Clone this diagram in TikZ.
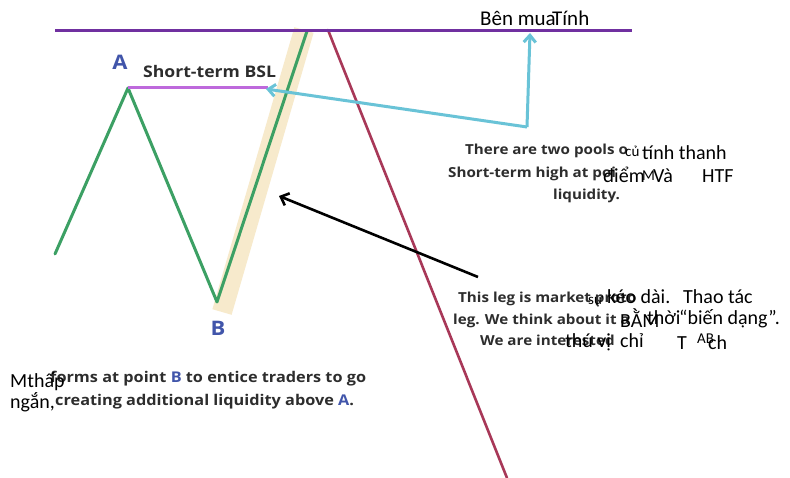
\documentclass[tikz,border=0pt]{standalone}
\usepackage{fontspec}
\setmainfont{Carlito}
\newfontfamily\bodyf{Open Sans}[FakeStretch=1.1]
\usetikzlibrary{arrows.meta}
\definecolor{toppurple}{RGB}{112,48,160}
\definecolor{bslpurple}{RGB}{190,105,220}
\definecolor{legreen}{RGB}{60,160,100}
\definecolor{bandbeige}{RGB}{247,234,204}
\definecolor{redleg}{RGB}{168,56,88}
\definecolor{cyanarr}{RGB}{105,195,215}
\definecolor{txtgray}{RGB}{45,45,45}
\definecolor{lblblue}{RGB}{65,85,170}
\tikzset{
  bodytxt/.style={inner sep=0pt, anchor=base west, text=txtgray, font=\bodyf\bfseries\fontsize{13.8}{16}\selectfont},
  bodybig/.style={inner sep=0pt, anchor=base west, text=txtgray, font=\bodyf\bfseries\fontsize{14.8}{17}\selectfont},
  over/.style={inner sep=0pt, anchor=base west, text=black, font=\fontsize{20}{23}\selectfont},
  oversmall/.style={inner sep=0pt, anchor=base west, text=black, font=\fontsize{15}{17}\selectfont},
  lbl/.style={inner sep=0pt, text=lblblue, font=\bodyf\bfseries\fontsize{20}{22}\selectfont},
  chartline/.style={line width=3pt, line cap=round, line join=round},
}
\begin{document}
\begin{tikzpicture}[x=1pt,y=-1pt]
\useasboundingbox[fill=white] (0,0) rectangle (790,478);
% coordinates
\coordinate (L1) at (55,31);
\coordinate (L2) at (632,31);
\coordinate (G0) at (55,254);
\coordinate (A) at (128,88);
\coordinate (B) at (217,302);
\coordinate (G3) at (307,31);
\coordinate (bandB) at (222,312);
\coordinate (bandT) at (304,30);
\coordinate (R1) at (328,30);
\coordinate (R2) at (507,478);
\coordinate (bslE) at (268,88);
\coordinate (cyanL) at (266,89);
\coordinate (corner) at (527,127);
\coordinate (cyanT) at (530,33);
\coordinate (blkS) at (478,277);
\coordinate (blkE) at (279,196);
% band
\draw[bandbeige, line width=20pt] (bandB) -- (bandT);
% lines
\draw[chartline, redleg, line width=2.6pt] (R1) -- (R2);
\draw[chartline, legreen] (G0) -- (A) -- (B) -- (G3);
\draw[chartline, toppurple, line cap=butt] (L1) -- (L2);
\draw[chartline, bslpurple, line cap=butt] (A) -- (bslE);
% arrows
\draw[cyanarr, line width=3pt, line join=round, -{Straight Barb[length=7pt,width=12pt]}] (corner) -- (cyanL);
\draw[cyanarr, line width=3pt, line join=round, -{Straight Barb[length=7pt,width=12pt]}] (corner) -- (cyanT);
\draw[black, line width=2.6pt, -{Straight Barb[length=7pt,width=13pt]}] (blkS) -- (blkE);
% labels
\node[lbl] (lA) at (120,62) {A};
\node[lbl] (lB) at (218,328) {B};
\node[inner sep=0pt, anchor=base west, text=txtgray, font=\bodyf\bfseries\fontsize{16}{19}\selectfont] (bsl) at (143,78) {Short-term BSL};
% body texts
\node[bodytxt] (t1) at (465,155) {There are two pools o};
\node[bodytxt] (t2) at (448,178) {Short-term high at poi};
\node[bodytxt] (t3) at (553,200) {liquidity.};
\node[bodytxt] (t4) at (458,303) {This leg is market proto};
\node[bodytxt] (t5) at (453,325) {leg. We think about it a};
\node[bodytxt] (t6) at (480,345) {We are interested};
\node[bodybig] (t7) at (50,382) {forms at point \textcolor{lblblue}{B} to entice traders to go};
\node[bodybig] (t8) at (55,405) {creating additional liquidity above \textcolor{lblblue}{A}.};
% overlay texts
\node[over, font=\fontsize{21}{24}\selectfont] (o1) at (480,26) {Bên mua};
\node[over, font=\fontsize{21}{24}\selectfont] (o2) at (552,26) {Tính};
\node[oversmall] (o3) at (625,157) {củ};
\node[over] (o4) at (642,160) {tính thanh};
\node[over] (o5) at (603,183) {điểm};
\node[oversmall] (o6) at (642,181) {M};
\node[over] (o7) at (653,183) {Và};
\node[over] (o8) at (702,183) {HTF};
\node[oversmall] (o9) at (588,305) {sự};
\node[over] (o10) at (607,304) {kéo dài.};
\node[over] (o11) at (683,304) {Thao tác};
\node[over] (o12) at (620,328) {BẰM};
\node[over] (o13) at (647,325) {thời};
\node[over] (o14) at (679,325) {“biến dạng”.};
\node[over] (o15) at (565,348) {thú vị};
\node[over] (o16) at (620,348) {chỉ};
\node[over] (o17) at (677,350) {T};
\node[oversmall] (o18) at (697,344) {AB};
\node[over] (o19) at (708,350) {ch};
\node[over] (o20) at (10,387) {Mthấp};
\node[over] (o21) at (10,408) {ngắn,};
\end{tikzpicture}
\end{document}
